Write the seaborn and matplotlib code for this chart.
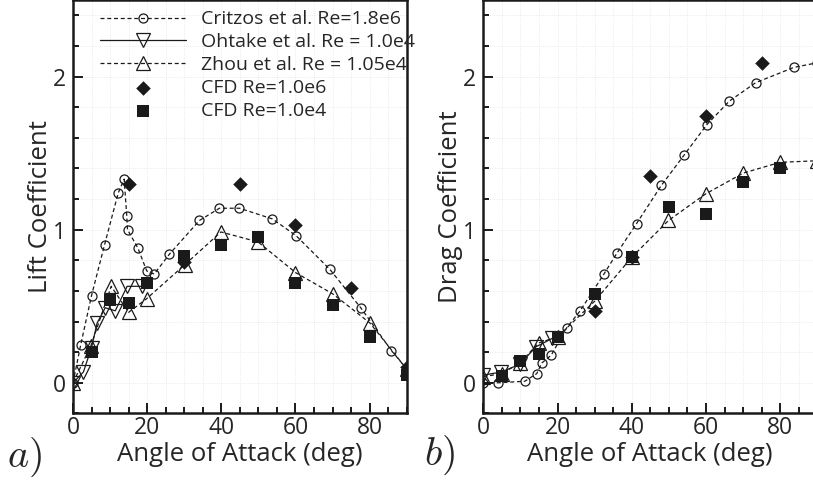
import matplotlib
matplotlib.use("Agg")
import matplotlib.pyplot as plt
from matplotlib.ticker import MultipleLocator
import seaborn as sns

# ---- Lift coefficient data ----
lift_critzos_aoa = [0, 2.1, 5.0, 8.5, 12.2, 13.8, 14.5, 14.7, 17.5, 19.9, 21.9, 26.0,
                    34.1, 39.5, 44.9, 53.8, 60.2, 69.3, 77.6, 85.9, 90.0]
lift_critzos_cl = [0.0, 0.25, 0.57, 0.90, 1.24, 1.33, 1.09, 1.00, 0.88, 0.73, 0.71, 0.84,
                   1.06, 1.14, 1.14, 1.07, 0.96, 0.74, 0.49, 0.21, 0.09]

lift_ohtake_aoa = [0, 2.8, 5.0, 6.5, 8.7, 11.4, 14.6, 18.5]
lift_ohtake_cl = [0.0, 0.07, 0.23, 0.39, 0.49, 0.47, 0.63, 0.63]

lift_zhou_aoa = [0, 4.8, 10.3, 15.0, 19.9, 30.1, 39.9, 49.9, 60.0, 70.1, 80.1, 90.0]
lift_zhou_cl = [0.0, 0.24, 0.63, 0.46, 0.55, 0.77, 0.985, 0.92, 0.72, 0.58, 0.39, 0.09]

lift_cfd_hi_aoa = [15, 30, 45, 60, 75, 90]
lift_cfd_hi_cl = [1.30, 0.79, 1.30, 1.03, 0.62, 0.10]

lift_cfd_lo_aoa = [5, 10, 15, 20, 30, 40, 50, 60, 70, 80, 90]
lift_cfd_lo_cl = [0.20, 0.54, 0.52, 0.65, 0.83, 0.90, 0.95, 0.65, 0.51, 0.30, 0.05]

# ---- Drag coefficient data ----
drag_critzos_aoa = [0, 4.0, 11.2, 14.4, 15.8, 18.3, 22.5, 26.1, 32.5, 36.1, 41.3, 48.0,
                    54.2, 60.2, 66.3, 73.4, 83.7, 90.0]
drag_critzos_cd = [0.0, 0.0, 0.01, 0.06, 0.13, 0.18, 0.36, 0.47, 0.71, 0.85, 1.04, 1.29,
                   1.49, 1.685, 1.84, 1.96, 2.06, 2.09]

drag_ohtake_aoa = [0, 4.8, 9.8, 14.2, 18.6]
drag_ohtake_cd = [0.05, 0.07, 0.12, 0.235, 0.29]

drag_zhou_aoa = [0, 5, 9.9, 14.9, 20, 30.1, 40, 49.9, 60, 70.1, 80, 90]
drag_zhou_cd = [0.04, 0.06, 0.13, 0.26, 0.30, 0.535, 0.82, 1.06, 1.235, 1.37, 1.44, 1.45]

drag_cfd_hi_aoa = [30, 40, 45, 60, 75]
drag_cfd_hi_cd = [0.47, 0.82, 1.35, 1.74, 2.09]

drag_cfd_lo_aoa = [5, 10, 15, 20, 30, 40, 50, 60, 70, 80]
drag_cfd_lo_cd = [0.045, 0.14, 0.19, 0.30, 0.577, 0.82, 1.15, 1.10, 1.31, 1.40]

legend_labels = ["Critzos et al. Re=1.8e6", "Ohtake et al. Re = 1.0e4",
                 "Zhou et al. Re = 1.05e4", "CFD Re=1.0e6", "CFD Re=1.0e4"]

sns.set_theme(style="white")
plt.rcParams["font.family"] = ["Open Sans", "DejaVu Sans"]
plt.rcParams["mathtext.fontset"] = "cm"

fig = plt.figure(figsize=(8.13, 4.8), dpi=100)
W, H = 813.0, 480.0
bottom_px, top_px = 413.4, 0.0
ax1 = fig.add_axes([73.0 / W, (H - bottom_px) / H, 333.7 / W, (bottom_px - top_px) / H])
ax2 = fig.add_axes([483.3 / W, (H - bottom_px) / H, 334.0 / W, (bottom_px - top_px) / H])

line_kw = dict(color="k", linewidth=0.9, markerfacecolor="none",
               markeredgecolor="k", markeredgewidth=0.9, estimator=None, sort=False)
dash = (0, (3.2, 2.2))


def draw_panel(ax, crit, oht, zhou, hi, lo, show_labels):
    lab = legend_labels if show_labels else [None] * 5
    sns.lineplot(x=crit[0], y=crit[1], ax=ax, marker="o", markersize=6.5,
                 linestyle=dash, label=lab[0], **line_kw)
    sns.lineplot(x=oht[0], y=oht[1], ax=ax, marker="v", markersize=9.5,
                 linestyle="-", label=lab[1], **line_kw)
    sns.lineplot(x=zhou[0], y=zhou[1], ax=ax, marker="^", markersize=9.5,
                 linestyle=dash, label=lab[2], **line_kw)
    sns.scatterplot(x=hi[0], y=hi[1], ax=ax, marker="D", s=55, color="k",
                    edgecolor="k", linewidth=0, label=lab[3], zorder=5)
    sns.scatterplot(x=lo[0], y=lo[1], ax=ax, marker="s", s=75, color="k",
                    edgecolor="k", linewidth=0, label=lab[4], zorder=5)


draw_panel(ax1, (lift_critzos_aoa, lift_critzos_cl), (lift_ohtake_aoa, lift_ohtake_cl),
           (lift_zhou_aoa, lift_zhou_cl), (lift_cfd_hi_aoa, lift_cfd_hi_cl),
           (lift_cfd_lo_aoa, lift_cfd_lo_cl), True)
draw_panel(ax2, (drag_critzos_aoa, drag_critzos_cd), (drag_ohtake_aoa, drag_ohtake_cd),
           (drag_zhou_aoa, drag_zhou_cd), (drag_cfd_hi_aoa, drag_cfd_hi_cd),
           (drag_cfd_lo_aoa, drag_cfd_lo_cd), False)

for ax, ylab in ((ax1, "Lift Coefficient"), (ax2, "Drag Coefficient")):
    ax.set_xlim(0, 90)
    ax.set_ylim(-0.2, 2.5)
    ax.xaxis.set_major_locator(MultipleLocator(20))
    ax.xaxis.set_minor_locator(MultipleLocator(5))
    ax.yaxis.set_major_locator(MultipleLocator(1))
    ax.yaxis.set_minor_locator(MultipleLocator(0.2))
    ax.grid(which="both", color="#e4e4e4", linestyle=":", linewidth=0.6)
    ax.set_axisbelow(True)
    for s in ax.spines.values():
        s.set_color("k")
        s.set_linewidth(1.8)
    ax.tick_params(which="both", direction="in", color="k", width=1.4,
                   labelsize=16.5, bottom=True, left=True, top=False, right=False)
    ax.tick_params(axis="x", pad=2)
    ax.tick_params(axis="y", pad=5)
    ax.tick_params(which="major", length=7)
    ax.tick_params(which="minor", length=4)
    ax.set_xlabel("Angle of Attack (deg)", fontsize=18.5, labelpad=1)
    ax.set_ylabel(ylab, fontsize=18.5, labelpad=0)

leg = ax1.legend(loc="upper left", bbox_to_anchor=(0.081, 0.975), frameon=False,
                 fontsize=14, handlelength=4.4, handletextpad=0.8, labelspacing=0.25,
                 borderpad=0, borderaxespad=0, numpoints=1, scatterpoints=1)

fig.text(25 / W, 1 - 457 / H, r"$a)$", fontsize=29, ha="center", va="center")
fig.text(440 / W, 1 - 455 / H, r"$b)$", fontsize=29, ha="center", va="center")

fig.savefig("out.png", dpi=100)
